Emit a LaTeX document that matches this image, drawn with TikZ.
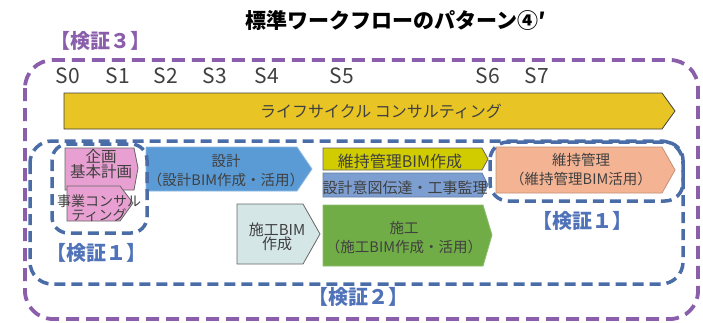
\documentclass[tikz,border=0pt]{standalone}
\usepackage{fontspec}
\setmainfont{Noto Sans CJK JP}
\definecolor{cpurple}{RGB}{139,94,172}
\definecolor{cblue}{RGB}{74,109,168}
\definecolor{clabel}{RGB}{79,114,184}
\definecolor{cyellow}{RGB}{232,196,36}
\definecolor{cpink}{RGB}{232,160,210}
\definecolor{cdesign}{RGB}{91,155,213}
\definecolor{colive}{RGB}{208,204,0}
\definecolor{cbluegray}{RGB}{124,158,208}
\definecolor{ccyan}{RGB}{212,230,230}
\definecolor{cgreen}{RGB}{112,173,71}
\definecolor{csalmon}{RGB}{244,180,148}
\definecolor{ctext}{RGB}{64,64,64}
\tikzset{
  shapeline/.style={draw=gray!80!black, line width=0.8pt},
  purpledash/.style={draw=cpurple, line width=3.8pt, dash pattern=on 13pt off 7pt},
  bluedash/.style={draw=cblue, line width=3.5pt, dash pattern=on 11pt off 6pt},
  boxtext/.style={text=ctext, align=center, inner sep=0pt},
  steplabel/.style={text=ctext, font=\fontsize{21}{23}\selectfont, inner sep=0pt},
  checklabel/.style={font=\fontsize{20}{23}\selectfont\bfseries, inner sep=0pt},
}
\newcommand\pentbox[7]{\draw[shapeline,#1] (#2,#3) -- (#4,#3) -- (#5,#7) -- (#4,#6) -- (#2,#6) -- cycle;}
\begin{document}
\begin{tikzpicture}[x=1pt,y=-1pt]
\useasboundingbox (0,0) rectangle (703,322);

% title
\node[inner sep=0pt, font=\fontsize{21}{24}\selectfont\bfseries] (title) at (396,20) {標準ワークフローのパターン④′};

% outer purple box
\draw[purpledash, rounded corners=28pt] (25,60) rectangle (698,319);
\node[checklabel, text=cpurple] (v3) at (100,41) {【検証３】};

% stage labels
\node[steplabel] (s0) at (68,76) {S0};
\node[steplabel] (s1) at (118,76) {S1};
\node[steplabel] (s2) at (166,76) {S2};
\node[steplabel] (s3) at (215,76) {S3};
\node[steplabel] (s4) at (267,76) {S4};
\node[steplabel] (s5) at (342,76) {S5};
\node[steplabel] (s6) at (488,76) {S6};
\node[steplabel] (s7) at (537,76) {S7};

% lifecycle arrow
\pentbox{fill=cyellow, draw=black!75}{64}{93}{662}{675}{129}{111}
\node[boxtext, font=\fontsize{16}{18}\selectfont] (lc) at (381,111) {ライフサイクル コンサルティング};

% pink boxes
\pentbox{fill=cpink, draw=black!60}{65}{148}{134}{138}{190}{168}
\node[boxtext, font=\fontsize{15.5}{11.5}\selectfont] (kikaku) at (101,164) {企画\\基本計画};
\pentbox{fill=cpink, draw=black!60}{67}{186}{120}{133}{221}{203}
\node[boxtext, font=\fontsize{14}{11.5}\selectfont] (jigyo) at (99,208) {事業コンサル\\ティング};

% design
\pentbox{fill=cdesign, draw=cdesign!70!white}{146}{147}{297}{312}{191}{169}
\node[boxtext, font=\fontsize{14.5}{19}\selectfont] (sekkei) at (226,171) {設計\\（設計BIM作成・活用）};

% olive
\pentbox{fill=colive, draw=black!60}{323}{148}{482}{488}{170}{159}
\node[boxtext, font=\fontsize{16}{18}\selectfont] (ijibim) at (400,161) {維持管理BIM作成};

% blue gray
\pentbox{fill=cbluegray, draw=cbluegray!80!black}{323}{173}{482}{488}{197}{185}
\node[boxtext, font=\fontsize{15}{18}\selectfont] (dentatsu) at (405,188) {設計意図伝達・工事監理};

% construction BIM
\pentbox{fill=ccyan, draw=black!60}{237}{204}{303}{320}{264}{234}
\node[boxtext, font=\fontsize{15}{14.5}\selectfont] (sekobim) at (277,237) {施工BIM\\作成};

% construction
\pentbox{fill=cgreen, draw=cgreen!80!white}{323}{205}{483}{492}{266}{235}
\node[boxtext, font=\fontsize{14.5}{19}\selectfont] (seko) at (404,238) {施工\\（施工BIM作成・活用）};

% maintenance
\pentbox{fill=csalmon, draw=csalmon!80!black}{496}{147}{662}{675}{193}{170}
\node[boxtext, font=\fontsize{14.5}{19}\selectfont] (iji) at (581,170) {維持管理\\（維持管理BIM活用）};

% blue dashed boxes
\draw[bluedash, rounded corners=22pt] (30,141) rectangle (683,284);
\draw[bluedash, rounded corners=16pt] (52,144) rectangle (147,233);
\draw[bluedash, rounded corners=18pt] (490,142) rectangle (683,201);

\node[checklabel, text=clabel] (v1a) at (96,253) {【検証１】};
\node[checklabel, text=clabel] (v1b) at (582,221) {【検証１】};
\node[checklabel, text=clabel] (v2) at (358,297) {【検証２】};
\end{tikzpicture}
\end{document}
